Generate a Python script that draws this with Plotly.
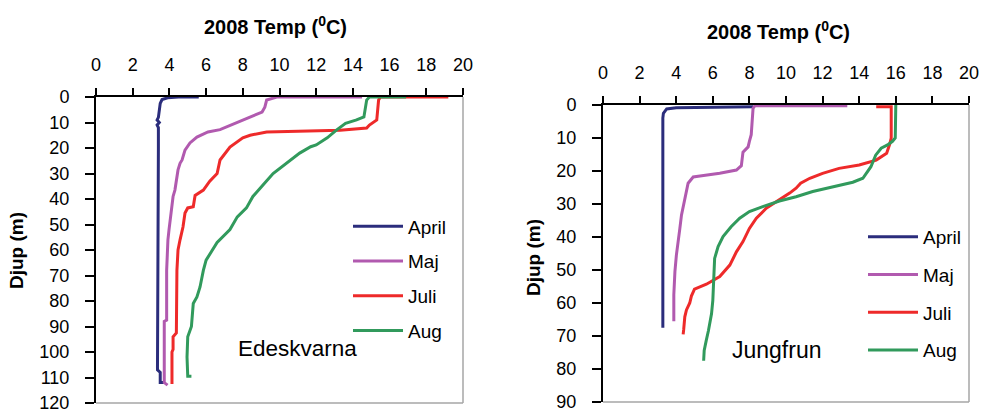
import plotly.graph_objects as go

# ---- Edeskvarna profiles (temperature in °C, depth in m) ----
edes_april_temp = [5.6, 4.5, 3.9, 3.6, 3.5, 3.45, 3.4, 3.33, 3.45, 3.33, 3.4, 3.4, 3.38, 3.37, 3.36, 3.35, 3.35, 3.5, 3.5, 3.7]
edes_april_depth = [0, 0, 0.3, 1.0, 2.5, 5, 8, 9, 10, 11, 12, 20, 40, 60, 80, 100, 107, 108, 112, 112]

edes_maj_temp = [14.5, 9.85, 9.3, 9.2, 9.05, 8.4, 8.0, 7.74, 7.3, 6.76, 6.1, 5.5, 5.12, 4.85, 4.69, 4.58,
                 4.47, 4.36, 4.3, 4.2, 4.14, 4.03, 3.98, 3.92, 3.85, 3.85, 3.72, 3.72, 3.9]
edes_maj_depth = [0, 0, 1.2, 4, 5.9, 7.8, 9, 9.8, 11, 12.8, 13.7, 15.7, 18, 20.8, 24.7, 26,
                  28.6, 33.8, 36.5, 39, 42, 49, 52, 56, 68, 87.5, 88, 112, 113]

edes_juli_temp = [19.2, 15.5, 15.4, 15.35, 15.3, 14.9, 14.75, 13.3, 9.3, 8.4, 8.0, 7.3, 7.1, 6.76, 6.6,
                  6.2, 5.85, 5.4, 5.3, 5.0, 4.85, 4.74, 4.58, 4.47, 4.41, 4.38, 4.2, 4.2, 4.14, 4.14]
edes_juli_depth = [0, 0, 1.2, 5, 9, 11, 12.2, 13, 13.7, 15, 16, 19.6, 21.5, 24.7, 30,
                   33, 36.5, 38.6, 43, 43.5, 45.5, 51, 56, 60, 68, 92.5, 94, 99, 100, 112.5]

edes_aug_temp = [16.9, 14.9, 14.75, 14.65, 14.6, 14.2, 13.6, 13.1, 12.6, 12.0, 11.7, 11.1, 10.6, 10.0, 9.65,
                 9.1, 8.55, 8.2, 7.7, 7.3, 6.6, 6.0, 5.85, 5.67, 5.5, 5.3, 5.2, 5.0, 4.96, 5.0, 5.2]
edes_aug_depth = [0, 0, 1.2, 6.3, 7.8, 9, 10.3, 13, 16, 18.8, 19.5, 22, 24.7, 27.8, 30,
                  34.5, 39, 43.5, 47, 52, 57, 64, 68, 74.5, 78.4, 81, 90, 94, 102, 109.5, 109.5]

# ---- Jungfrun profiles ----
jung_april_temp = [8.2, 4.0, 3.48, 3.3, 3.27, 3.27]
jung_april_depth = [0.5, 0.8, 1.2, 2.5, 4, 67.5]

jung_maj_temp = [13.35, 8.3, 8.2, 8.1, 8.0, 7.93, 7.65, 7.56, 7.29, 6.38, 5.3, 4.93, 4.65, 4.56, 4.47,
                 4.29, 4.2, 4.1, 4.01, 3.93, 3.87, 3.87]
jung_maj_depth = [0.2, 0.2, 1, 9, 11, 12.7, 14.3, 18.4, 19.7, 20.7, 21.5, 21.8, 23.7, 26.3, 29.3,
                  33.3, 37.4, 41.4, 45.5, 50.5, 57.5, 65.5]

jung_juli_temp = [14.93, 15.75, 15.75, 15.66, 15.5, 14.93, 14.0, 12.9, 12.0, 11.3, 10.8, 10.55, 10.2, 9.64,
                  8.92, 8.38, 8.0, 7.65, 7.29, 6.93, 6.38, 5.65, 5.0, 4.83, 4.74, 4.56, 4.47, 4.41, 4.38]
jung_juli_depth = [0.5, 0.5, 10, 12, 14.6, 16.7, 18.2, 19.2, 20.7, 22.2, 23.7, 25.2, 26.7, 28.7,
                   31.3, 34.3, 37.4, 41.4, 44.5, 48.5, 52, 54.3, 55.8, 57.9, 60, 62.1, 64.2, 68, 69.5]

jung_aug_temp = [16.0, 15.97, 15.82, 15.55, 15.2, 14.9, 14.64, 14.37, 14.2, 13.65, 12.55, 11.46, 10.55, 9.64,
                 8.73, 8.0, 7.47, 7.0, 6.56, 6.29, 6.1, 6.05, 6.0, 5.93, 5.85, 5.76, 5.64, 5.53, 5.5]
jung_aug_depth = [0, 10, 11, 12.1, 13.1, 15.2, 18.7, 20.7, 22.2, 23.4, 24.7, 26.2, 27.8, 29.1,
                  30.8, 32.3, 34.3, 36.9, 39.9, 42.9, 46.5, 55.5, 59.3, 63.3, 66.4, 68.4, 71.4, 74.4, 77.5]

month_names = ["April", "Maj", "Juli", "Aug"]
month_colors = ["#2b2d7c", "#b15aaf", "#ee2a2a", "#319a5c"]

lakes = [
    ("Edeskvarna", "x", "y", "legend",
     [(edes_april_temp, edes_april_depth), (edes_maj_temp, edes_maj_depth),
      (edes_juli_temp, edes_juli_depth), (edes_aug_temp, edes_aug_depth)]),
    ("Jungfrun", "x2", "y2", "legend2",
     [(jung_april_temp, jung_april_depth), (jung_maj_temp, jung_maj_depth),
      (jung_juli_temp, jung_juli_depth), (jung_aug_temp, jung_aug_depth)]),
]

W, H = 982, 410
FONT = "Liberation Sans, Arial, sans-serif"

fig = go.Figure()
for lake, xa, ya, leg, profiles in lakes:
    for name, color, (t, d) in zip(month_names, month_colors, profiles):
        fig.add_trace(go.Scatter(
            x=t, y=d, mode="lines", name=name, xaxis=xa, yaxis=ya,
            legend=leg, legendgroup=lake + name,
            line=dict(color=color, width=3),
        ))

def px_x(p):
    return p / W

def px_y(p):
    return 1 - p / H

axis_common = dict(showline=True, linecolor="black", linewidth=2, showgrid=False,
                   zeroline=False, ticks="outside", tickcolor="black", tickwidth=1.5,
                   automargin=False, ticklabeloverflow="allow",
                   tickfont=dict(size=18, color="black", family=FONT))

fig.update_layout(
    width=W, height=H, margin=dict(l=0, r=0, t=0, b=0, autoexpand=False),
    paper_bgcolor="white", plot_bgcolor="white",
    font=dict(family=FONT, color="black"),
    xaxis=dict(domain=[px_x(96), px_x(463)], anchor="y", side="top", range=[0, 20],
               tick0=0, dtick=2, ticklen=7, ticklabelstandoff=10, **axis_common),
    yaxis=dict(domain=[px_y(403), px_y(97)], anchor="x", range=[120, 0],
               tick0=0, dtick=10, ticklen=9, ticklabelstandoff=12, **axis_common),
    xaxis2=dict(domain=[px_x(603), px_x(969)], anchor="y2", side="top", range=[0, 20],
                tick0=0, dtick=2, ticklen=7, ticklabelstandoff=10, **axis_common),
    yaxis2=dict(domain=[px_y(402), px_y(105)], anchor="x2", range=[90, 0],
                tick0=0, dtick=10, ticklen=9, ticklabelstandoff=12, **axis_common),
    legend=dict(x=px_x(348), xanchor="left", y=px_y(207.5), yanchor="top",
                font=dict(size=19, family=FONT), tracegroupgap=7,
                bgcolor="rgba(0,0,0,0)", itemwidth=50),
    legend2=dict(x=px_x(863), xanchor="left", y=px_y(218), yanchor="top",
                 font=dict(size=19, family=FONT), tracegroupgap=10,
                 bgcolor="rgba(0,0,0,0)", itemwidth=50),
)

# light frame on the right and bottom of each plot area
for xa, ya in [("x", "y"), ("x2", "y2")]:
    for x0, y0, x1, y1 in [(1, 1, 1, 0), (0, 0, 1, 0)]:
        fig.add_shape(type="line", xref=f"{xa} domain", yref=f"{ya} domain",
                      x0=x0, y0=y0, x1=x1, y1=y1, line=dict(color="#a6a6a6", width=1.5))

title = "2008 Temp (<sup>0</sup>C)"
annotations = [
    dict(text=f"<b>{title}</b>", x=px_x(275), y=px_y(25), font=dict(size=20)),
    dict(text=f"<b>{title}</b>", x=px_x(778), y=px_y(31), font=dict(size=20)),
    dict(text="<b>Djup (m)</b>", x=px_x(16), y=px_y(251), textangle=-90, font=dict(size=19)),
    dict(text="<b>Djup (m)</b>", x=px_x(533), y=px_y(258), textangle=-90, font=dict(size=19)),
    dict(text="Edeskvarna", x=px_x(297), y=px_y(348), font=dict(size=22.5)),
    dict(text="Jungfrun", x=px_x(777), y=px_y(350), font=dict(size=23)),
]
for a in annotations:
    fig.add_annotation(xref="paper", yref="paper", showarrow=False,
                       xanchor="center", yanchor="middle", **a)

fig.write_html("out.html")
